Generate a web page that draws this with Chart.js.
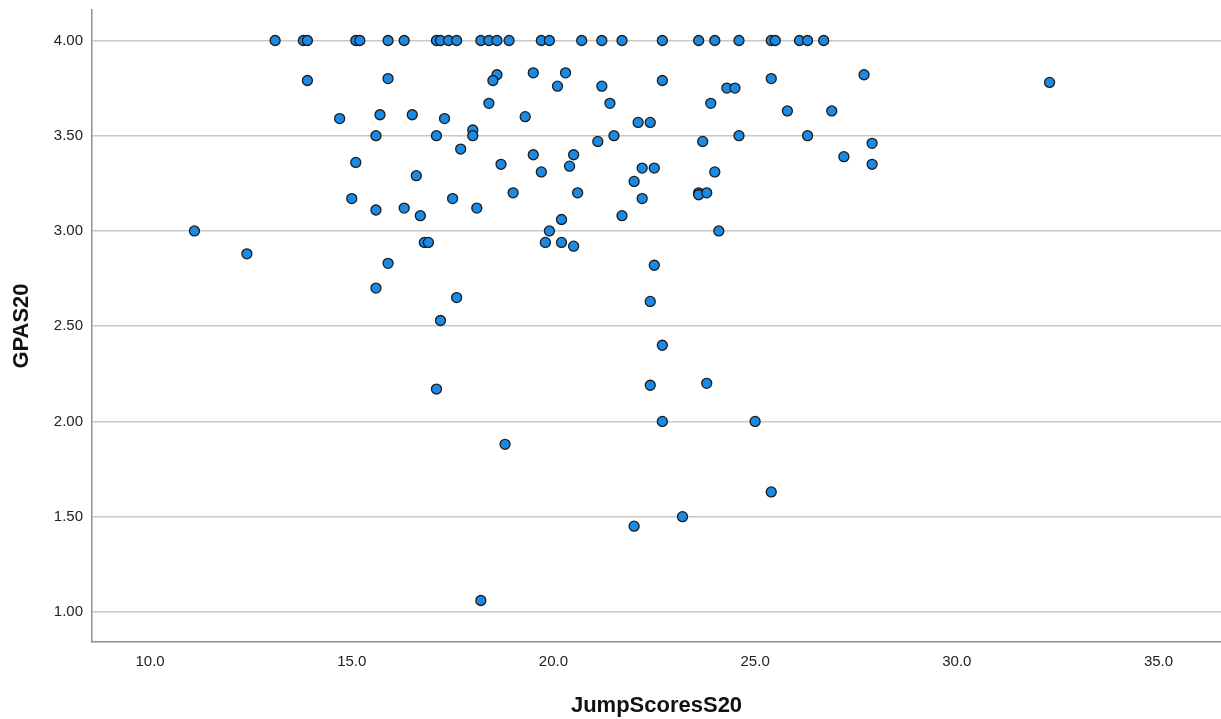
<!DOCTYPE html>
<html>
<head>
<meta charset="utf-8">
<script src="https://cdn.jsdelivr.net/npm/chart.js@4.4.0/dist/chart.umd.min.js"></script>
<style>
  html, body { margin: 0; padding: 0; background: #fff; }
  #wrap { width: 1221px; height: 719px; position: relative; }
</style>
</head>
<body>
<div id="wrap"><canvas id="scatter"></canvas></div>
<script>
// Values (x = JumpScoresS20, y = GPAS20)
const jumpScores = [
  13.1, 13.8, 13.9, 15.1, 15.2, 15.9, 16.3, 17.1, 17.2, 17.4, 17.6, 18.2, 18.4, 18.6, 18.9,
  19.7, 19.9, 20.7, 21.2, 21.7, 22.7, 23.6, 24.0, 24.6, 25.4, 25.5, 26.1, 26.3, 26.7,
  13.9, 15.9, 18.6, 18.5, 18.4, 14.7, 15.7, 16.5, 17.3, 15.6, 17.1, 18.0, 18.0, 17.7, 15.1,
  16.6, 15.0, 15.6, 16.3, 16.7, 17.5, 18.1,
  11.1, 12.4, 16.8, 16.9, 15.9, 15.6, 17.6, 17.2, 17.1, 18.8,
  19.5, 20.3, 20.1, 21.2, 22.7, 24.3, 24.5, 25.4, 21.4, 23.9, 19.3, 22.1, 22.4, 25.8, 26.9,
  21.5, 21.1, 23.7, 24.6, 26.3, 27.2, 18.7, 19.5, 20.5, 19.7, 20.4, 22.2, 22.5, 24.0, 22.0,
  19.0, 20.6, 22.2, 23.6, 23.6, 23.8, 20.2, 21.7,
  19.9, 19.8, 20.2, 20.5, 24.1, 22.5, 22.4, 22.7, 22.4, 23.8, 22.7, 25.0,
  27.7, 32.3, 27.9, 27.9, 25.4, 23.2, 22.0, 18.2
];
const gpaScores = [
  4.00, 4.00, 4.00, 4.00, 4.00, 4.00, 4.00, 4.00, 4.00, 4.00, 4.00, 4.00, 4.00, 4.00, 4.00,
  4.00, 4.00, 4.00, 4.00, 4.00, 4.00, 4.00, 4.00, 4.00, 4.00, 4.00, 4.00, 4.00, 4.00,
  3.79, 3.80, 3.82, 3.79, 3.67, 3.59, 3.61, 3.61, 3.59, 3.50, 3.50, 3.53, 3.50, 3.43, 3.36,
  3.29, 3.17, 3.11, 3.12, 3.08, 3.17, 3.12,
  3.00, 2.88, 2.94, 2.94, 2.83, 2.70, 2.65, 2.53, 2.17, 1.88,
  3.83, 3.83, 3.76, 3.76, 3.79, 3.75, 3.75, 3.80, 3.67, 3.67, 3.60, 3.57, 3.57, 3.63, 3.63,
  3.50, 3.47, 3.47, 3.50, 3.50, 3.39, 3.35, 3.40, 3.40, 3.31, 3.34, 3.33, 3.33, 3.31, 3.26,
  3.20, 3.20, 3.17, 3.20, 3.19, 3.20, 3.06, 3.08,
  3.00, 2.94, 2.94, 2.92, 3.00, 2.82, 2.63, 2.40, 2.19, 2.20, 2.00, 2.00,
  3.82, 3.78, 3.46, 3.35, 1.63, 1.50, 1.45, 1.06
];
const xTicks = [10, 15, 20, 25, 30, 35];
const yTicks = [1.0, 1.5, 2.0, 2.5, 3.0, 3.5, 4.0];

const points = jumpScores.map((x, i) => ({ x: x, y: gpaScores[i] }));

const tickFont = { family: 'Liberation Sans, Arial, sans-serif', size: 15 };
const titleFont = { family: 'Liberation Sans, Arial, sans-serif', size: 22, weight: 'bold' };

new Chart(document.getElementById('scatter'), {
  type: 'scatter',
  data: {
    datasets: [{
      data: points,
      backgroundColor: '#1a8ae5',
      borderColor: '#1c1c1c',
      borderWidth: 1.3,
      pointRadius: 5,
      pointHoverRadius: 5
    }]
  },
  options: {
    responsive: true,
    maintainAspectRatio: false,
    animation: false,
    layout: { autoPadding: false, padding: { top: 10, right: 0, left: 0, bottom: 0 } },
    plugins: { legend: { display: false }, tooltip: { enabled: false } },
    scales: {
      x: {
        type: 'linear',
        min: 8.56,
        max: 36.55,
        afterBuildTicks: s => { s.ticks = xTicks.map(v => ({ value: v })); },
        afterFit: s => { s.height = 77; s.paddingLeft = 0; s.paddingRight = 0; },
        grid: { display: false, drawTicks: false },
        border: { display: true, color: '#8f8f8f', width: 1.5 },
        ticks: { font: tickFont, color: '#222', padding: 11, maxRotation: 0,
                 callback: v => Number(v).toFixed(1) },
        title: { display: true, text: 'JumpScoresS20', font: titleFont, color: '#111',
                 padding: { top: 0, bottom: 0 } }
      },
      y: {
        type: 'linear',
        min: 0.842,
        max: 4.16,
        afterBuildTicks: s => { s.ticks = yTicks.map(v => ({ value: v })); },
        afterFit: s => { s.width = 92; s.paddingTop = 0; s.paddingBottom = 0; },
        grid: { color: '#c8c8c8', lineWidth: 1.5, drawTicks: false },
        border: { display: true, color: '#8f8f8f', width: 1.5 },
        ticks: { font: tickFont, color: '#222', padding: 9,
                 callback: v => Number(v).toFixed(2) },
        title: { display: true, text: 'GPAS20', font: titleFont, color: '#111',
                 padding: { top: 9, bottom: 0 } }
      }
    }
  }
});
</script>
</body>
</html>
